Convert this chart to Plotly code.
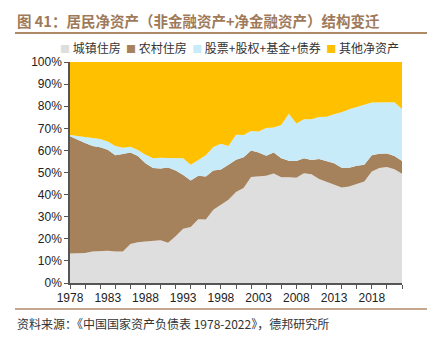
import plotly.graph_objects as go

years = list(range(1978, 2023))
urban = [13.3, 13.3, 13.6, 14.3, 14.4, 14.6, 14.2, 14.3, 17.6, 18.4,
         18.8, 19.0, 19.3, 18.2, 21.1, 24.6, 25.3, 28.9, 28.7, 33.2,
         35.5, 37.7, 41.2, 43.0, 48.0, 48.2, 48.5, 49.6, 47.9, 47.8,
         47.6, 49.7, 49.2, 47.1, 45.9, 44.7, 43.2, 43.7, 44.9, 45.9,
         50.5, 52.0, 52.5, 51.5, 49.4]
rural = [53.1, 51.5, 49.7, 47.7, 47.0, 45.7, 43.6, 44.1, 41.4, 39.1,
         35.4, 33.0, 32.5, 34.1, 29.8, 24.3, 21.1, 19.6, 19.5, 17.7,
         15.9, 15.8, 14.6, 13.9, 12.0, 10.8, 9.1, 9.5, 8.6, 7.5,
         7.6, 6.8, 6.5, 9.0, 9.4, 9.5, 8.9, 8.5, 8.1, 7.6,
         7.3, 6.5, 6.1, 6.0, 5.8]
stocks = [0.6, 1.8, 2.7, 3.6, 3.8, 3.7, 4.2, 2.8, 2.7, 2.7,
          3.8, 4.4, 4.9, 4.3, 5.5, 7.5, 7.1, 7.2, 9.6, 10.6,
          11.6, 8.5, 11.3, 10.1, 8.8, 9.5, 12.5, 11.3, 15.0, 21.3,
          17.0, 17.6, 18.4, 19.0, 19.9, 22.2, 25.2, 26.4, 26.8, 27.2,
          23.9, 23.3, 23.0, 24.3, 23.5]
other = [round(100 - u - r - s, 1) for u, r, s in zip(urban, rural, stocks)]

names = ["城镇住房", "农村住房", "股票+股权+基金+债券", "其他净资产"]
colors = ["#DEDEDE", "#A6825C", "#C8EBF9", "#FFC000"]
series = [urban, rural, stocks, other]
xlabels = list(range(1978, 2019, 5))
yticks = list(range(0, 101, 10))

fig = go.Figure()
for name, vals, col in zip(names, series, colors):
    fig.add_trace(go.Scatter(
        x=years, y=vals, name=name, mode="lines", stackgroup="one",
        line=dict(width=0, color=col), fillcolor=col, showlegend=False))

L, R, T, B = 70, 32, 62, 57
W, H = 434, 340
pw, ph = W - L - R, H - T - B

def px(x):
    return (x - L) / pw

def py(y):
    return (H - B - y) / ph

fig.update_layout(
    width=W, height=H, margin=dict(l=L, r=R, t=T, b=B),
    paper_bgcolor="white", plot_bgcolor="white",
    font=dict(family="Liberation Sans, Arial, sans-serif", size=12, color="#222"),
    xaxis=dict(range=[1978, 2022], tickvals=xlabels, ticktext=[str(v) for v in xlabels],
               ticks="outside", ticklen=0, showgrid=False, zeroline=False,
               showline=True, linecolor="#555", linewidth=1.5, ticklabelstandoff=3,
               tickfont=dict(size=12, color="#222"),
               minor=dict(ticks="outside", tick0=1978, dtick=2, ticklen=4,
                          tickcolor="#555", tickwidth=1, showgrid=False)),
    yaxis=dict(range=[0, 100], tickvals=yticks, ticktext=[f"{v}%" for v in yticks],
               ticks="outside", ticklen=4, tickcolor="#555", showgrid=False,
               zeroline=False, showline=True, linecolor="#555", linewidth=1.5,
               tickfont=dict(size=12, color="#222")),
)

cjk = "Noto Sans CJK SC"
legend_html = "  ".join(
    f"<span style='color:{c};font-size:10px'>■</span> {n}" for n, c in zip(names, colors))
fig.add_annotation(xref="paper", yref="paper", x=px(229), y=py(47),
                   text=legend_html, showarrow=False, xanchor="center", yanchor="middle",
                   font=dict(family=cjk, size=12, color="#333"))
fig.add_annotation(xref="paper", yref="paper", x=px(15), y=py(20),
                   text="<b>图 41：居民净资产（非金融资产+净金融资产）结构变迁</b>",
                   showarrow=False, xanchor="left", yanchor="middle",
                   font=dict(family=cjk, size=14.5, color="#9E7A5A"))
fig.add_annotation(xref="paper", yref="paper", x=px(15), y=py(323),
                   text="资料来源：《中国国家资产负债表 1978-2022》，德邦研究所",
                   showarrow=False, xanchor="left", yanchor="middle",
                   font=dict(family=cjk, size=12, color="#333"))
fig.add_shape(type="line", xref="paper", yref="paper", x0=px(15), x1=px(427),
              y0=py(33), y1=py(33), line=dict(color="#B08A66", width=2))
fig.add_shape(type="line", xref="paper", yref="paper", x0=px(15), x1=px(427),
              y0=py(309), y1=py(309), line=dict(color="#B08A66", width=1.5))

fig.write_html("out.html")
